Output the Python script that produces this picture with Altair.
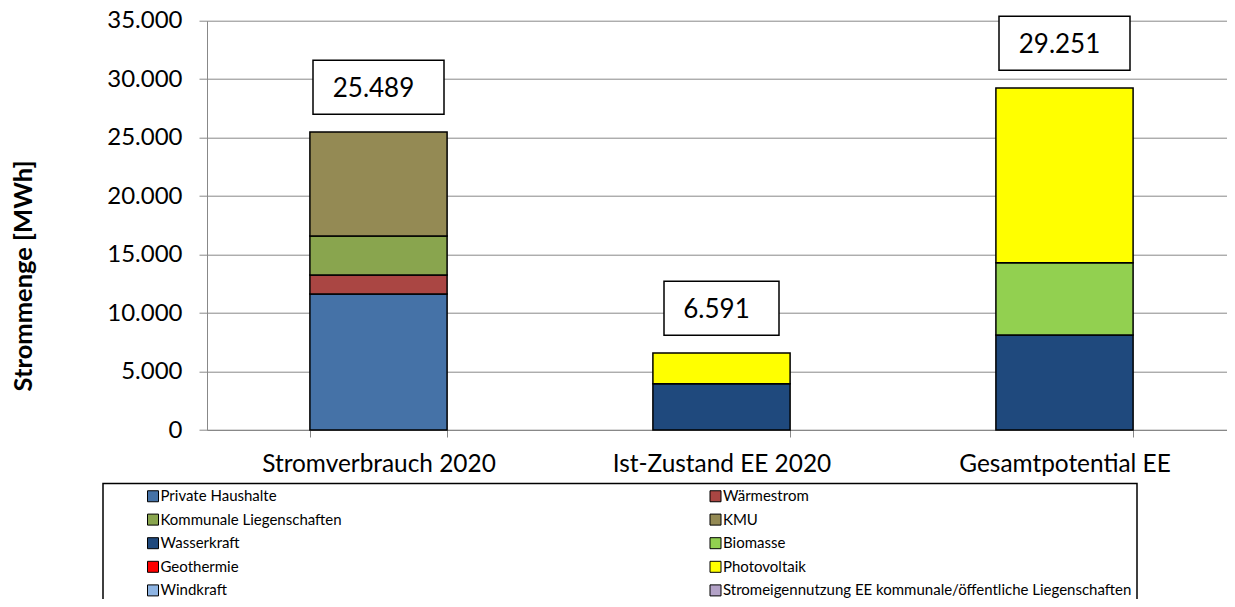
import altair as alt
import pandas as pd

# ---- data ----
categories = ["Stromverbrauch 2020", "Ist-Zustand EE 2020", "Gesamtpotential EE"]

series = ["Private Haushalte", "Wärmestrom", "Kommunale Liegenschaften", "KMU",
          "Wasserkraft", "Biomasse", "Geothermie", "Photovoltaik", "Windkraft",
          "Stromeigennutzung EE kommunale/öffentliche Liegenschaften"]
colors = ["#4572A7", "#AA4643", "#89A54E", "#948A54", "#1F497D",
          "#92D050", "#FF0000", "#FFFF00", "#8EB4E3", "#B3A2C7"]

verbrauch_series = ["Private Haushalte", "Wärmestrom", "Kommunale Liegenschaften", "KMU"]
verbrauch_values = [11630, 1625, 3335, 8899]

ist_series = ["Wasserkraft", "Photovoltaik"]
ist_values = [3960, 2631]

potential_series = ["Wasserkraft", "Biomasse", "Photovoltaik"]
potential_values = [8120, 6190, 14941]

y_ticks = [0, 5000, 10000, 15000, 20000, 25000, 30000, 35000]

rows = []
for cat, ser, vals in zip(categories,
                          [verbrauch_series, ist_series, potential_series],
                          [verbrauch_values, ist_values, potential_values]):
    for s, v in zip(ser, vals):
        rows.append({"category": cat, "series": s, "value": v, "order": series.index(s)})
df = pd.DataFrame(rows)

FONT = "Lato"
GRAY = "#888888"

x_axis = alt.Axis(title=None, labelAngle=0, tickBand="extent", tickSize=7,
                  tickColor=GRAY, domainColor=GRAY, labelColor="black",
                  labelFontSize=24.4, labelFont=FONT, labelBaseline="alphabetic",
                  labelPadding=34.7, labelLimit=0, grid=False)
x_scale = alt.Scale(paddingInner=0.6, paddingOuter=0.3, range=[0, 1029])

y_axis = alt.Axis(values=y_ticks,
                  labelExpr="replace(format(datum.value, ','), ',', '.')",
                  title="Strommenge [MWh]", titleFontWeight="bold",
                  titleFontSize=25.5, titleFont=FONT, titleColor="black",
                  titleX=-176, titleY=254.8, titleAlign="center",
                  titleBaseline="alphabetic", titleAngle=270,
                  labelFontSize=24, labelFont=FONT, labelColor="black",
                  labelPadding=17, tickSize=8, tickColor=GRAY,
                  domainColor=GRAY, gridColor=GRAY, gridWidth=1)
y_scale = alt.Scale(domain=[0, 35000], nice=False)

base = alt.Chart(df)

bars = base.mark_bar(stroke="black", strokeWidth=1.5).encode(
    x=alt.X("category:N", sort=categories, scale=x_scale, axis=x_axis),
    y=alt.Y("value:Q", stack="zero", scale=y_scale, axis=y_axis),
    color=alt.Color("series:N",
                    scale=alt.Scale(domain=series, range=colors),
                    legend=alt.Legend(title=None, orient="none", direction="horizontal",
                                      legendX=-104, legendY=462.8,
                                      columns=2, columnPadding=328.5, rowPadding=7.6,
                                      symbolType="square", symbolSize=121,
                                      symbolStrokeColor="black", symbolStrokeWidth=1,
                                      labelFontSize=15, labelFont=FONT, labelColor="black",
                                      labelLimit=0, symbolOffset=37.5, labelOffset=0,
                                      padding=5, strokeColor="black")),
    order=alt.Order("order:Q", sort="ascending"),
)

totals = base.transform_aggregate(
    total="sum(value)", groupby=["category"]
).transform_calculate(
    label="replace(format(datum.total, ','), ',', '.')"
).transform_calculate(
    hw="17.5 + 8 * length(datum.label)"
).transform_calculate(
    box="'M' + (-datum.hw) + ',-27H' + datum.hw + 'V27H' + (-datum.hw) + 'Z'"
)

boxes = totals.mark_point(size=4, filled=True, fill="white", stroke="black",
                          strokeWidth=1.5, opacity=1, yOffset=-44.7).encode(
    x=alt.X("category:N", sort=categories, scale=x_scale, axis=x_axis),
    y=alt.Y("total:Q", scale=y_scale, axis=y_axis),
    shape=alt.Shape("box:N", scale=None, legend=None),
)

texts = totals.mark_text(fontSize=26, font=FONT, color="black", dx=-5, dy=2,
                         yOffset=-44.7, baseline="middle", align="center").encode(
    x=alt.X("category:N", sort=categories, scale=x_scale, axis=x_axis),
    y=alt.Y("total:Q", scale=y_scale, axis=y_axis),
    text="label:N",
)

chart = alt.layer(bars, boxes, texts).properties(
    width=1020, height=409.3,
    autosize=alt.AutoSizeParams(type="none"),
    padding={"left": 199, "top": 12.7, "right": 0, "bottom": 169},
    background="white",
).configure_view(stroke=None).configure_legend(strokeWidth=1.5)

chart.save("out.html", embed_options={"renderer": "svg", "actions": False})
